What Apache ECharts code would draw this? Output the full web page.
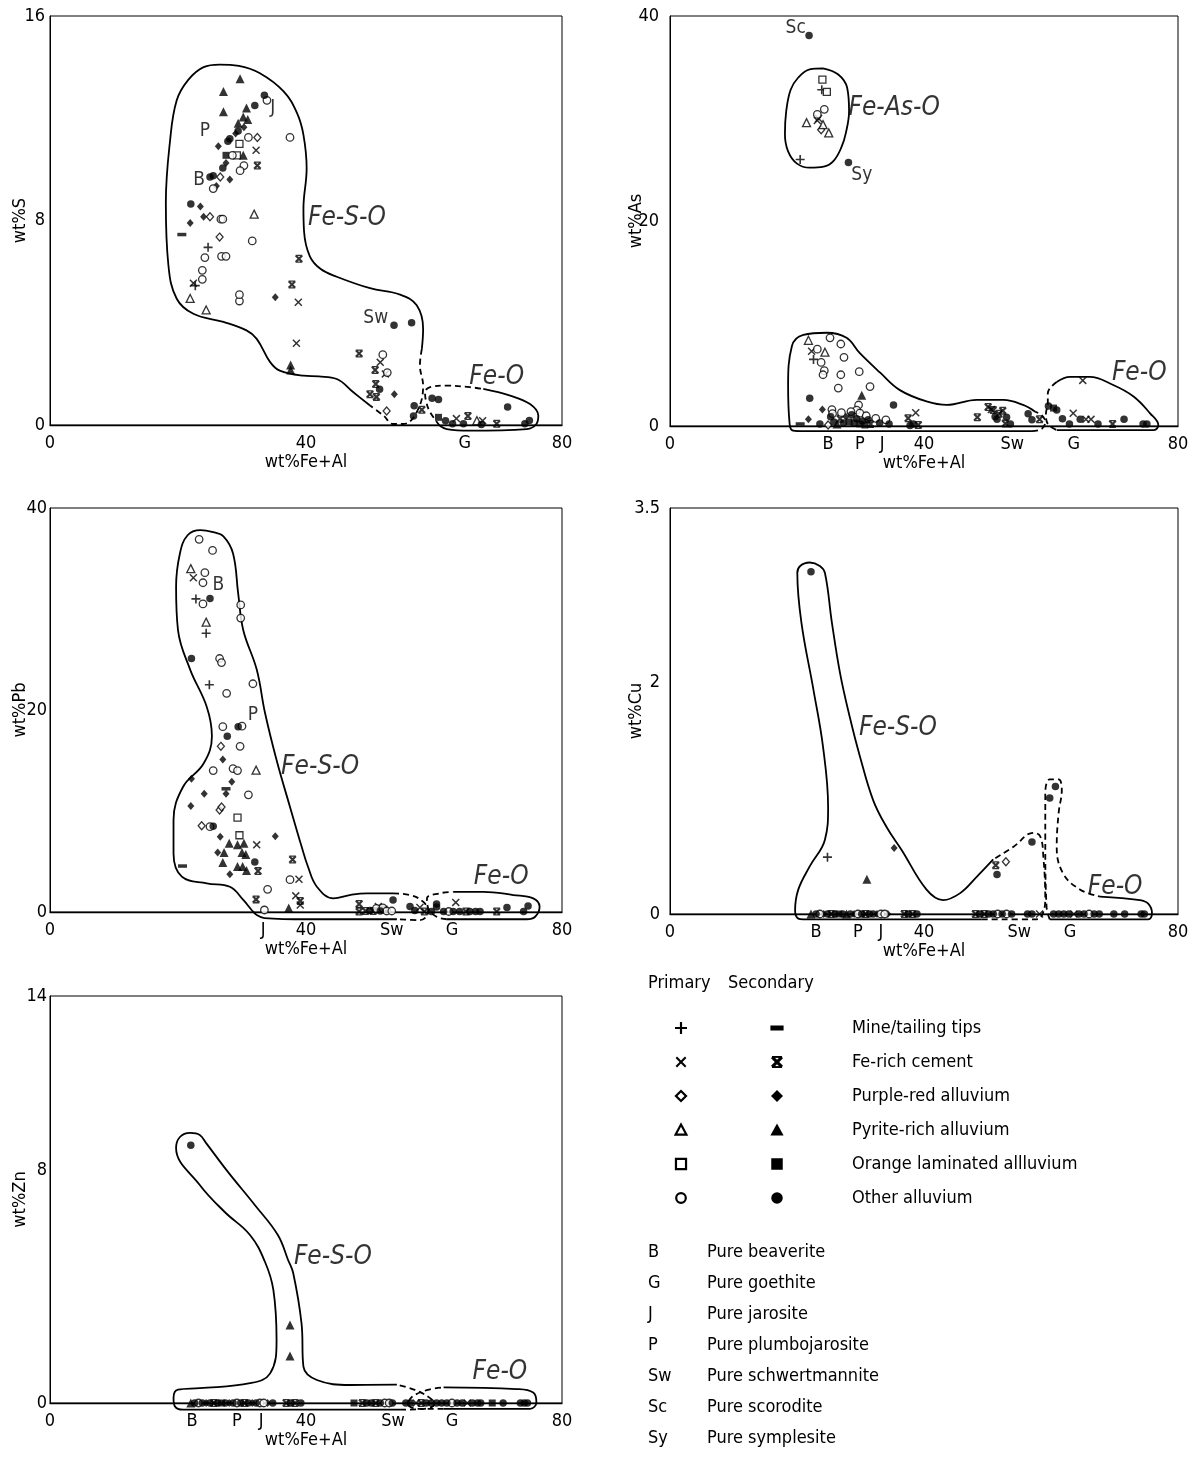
<!DOCTYPE html>
<html><head><meta charset="utf-8">
<script src="https://cdn.jsdelivr.net/npm/echarts@6/dist/echarts.min.js"></script>
<style>html,body{margin:0;padding:0;background:#fff}#c{width:1197px;height:1458px}</style>
</head><body><div id="c"></div><script>
// ---------------- DATA ----------------
// point codes: p=primary(open), s=secondary(filled); + mine tips, - (secondary mine), x cement, d diamond, t triangle, q square, c circle
const X_LABELS_S  = [[0,'0'],[40,'40'],[64.8,'G'],[80,'80']];
const X_LABELS_AS = [[0,'0'],[24.9,'B'],[29.9,'P'],[33.4,'J'],[40,'40'],[53.9,'Sw'],[63.6,'G'],[80,'80']];
const X_LABELS_PB = [[0,'0'],[33.3,'J'],[40,'40'],[53.4,'Sw'],[62.8,'G'],[80,'80']];
const X_LABELS_CU = [[0,'0'],[23,'B'],[29.6,'P'],[33.2,'J'],[40,'40'],[55,'Sw'],[63,'G'],[80,'80']];
const X_LABELS_ZN = [[0,'0'],[22.2,'B'],[29.2,'P'],[33,'J'],[40,'40'],[53.6,'Sw'],[62.8,'G'],[80,'80']];
const Y_TICKS_S = [0,8,16], Y_TICKS_AS = [0,20,40], Y_TICKS_PB = [0,20,40], Y_TICKS_CU = [0,2,3.5], Y_TICKS_ZN = [0,8,14];

const PTS_S = [
 [33.5,12.9,'sc'],[32.0,12.5,'sc'],[29.4,11.5,'sc'],[28.1,11.2,'sc'],[27.8,11.1,'sc'],[27.5,10.55,'sq'],[27.0,10.05,'sc'],[25.0,9.7,'sc'],[25.5,9.75,'sc'],[22.0,8.65,'sc'],
 [33.9,12.7,'pc'],[31.0,11.25,'pc'],[37.5,11.25,'pc'],[28.5,10.55,'pc'],[30.3,10.15,'pc'],[29.7,9.95,'pc'],[25.5,9.25,'pc'],[26.7,8.05,'pc'],[27.0,8.05,'pc'],[31.6,7.2,'pc'],
 [24.2,6.55,'pc'],[26.8,6.6,'pc'],[27.5,6.6,'pc'],[23.8,6.05,'pc'],[23.8,5.7,'pc'],[29.6,4.85,'pc'],[29.6,5.1,'pc'],[52.0,2.75,'pc'],[52.7,2.05,'pc'],
 [29.7,13.55,'st'],[27.1,13.05,'st'],[27.1,12.25,'st'],[30.7,12.4,'st'],[30.2,12.05,'st'],[30.9,11.95,'st'],[29.4,11.8,'st'],[30.2,10.55,'st'],[37.6,2.35,'st'],[37.6,2.15,'st'],
 [30.3,11.65,'sd'],[29.0,11.4,'sd'],[26.3,10.9,'sd'],[27.5,10.25,'sd'],[28.1,9.6,'sd'],[26.0,9.35,'sd'],[23.5,8.55,'sd'],[24.0,8.15,'sd'],[21.9,7.9,'sd'],[35.2,5.0,'sd'],[53.8,1.2,'sd'],
 [32.4,11.25,'pd'],[26.6,9.7,'pd'],[25.0,8.15,'pd'],[26.5,7.35,'pd'],[52.6,0.55,'pd'],
 [29.6,11.0,'pq'],[29.2,10.55,'pq'],
 [31.9,8.25,'pt'],[21.9,4.95,'pt'],[24.4,4.5,'pt'],[66.7,0.17,'pt'],
 [32.2,10.75,'px'],[22.4,5.55,'px'],[38.8,4.8,'px'],[38.5,3.2,'px'],[51.6,2.45,'px'],[52.4,2.0,'px'],[63.5,0.25,'px'],[67.6,0.17,'px'],
 [32.4,10.15,'sx'],[38.9,6.5,'sx'],[37.8,5.5,'sx'],[48.3,2.8,'sx'],[50.8,2.15,'sx'],[50.9,1.6,'sx'],[50.0,1.2,'sx'],[51.0,1.1,'sx'],[58.1,0.6,'sx'],[65.3,0.35,'sx'],[69.8,0.05,'sx'],
 [20.6,7.45,'s-'],
 [24.7,6.95,'p+'],[22.7,5.45,'p+'],
 [53.75,3.9,'sc'],[56.5,4.0,'sc'],[51.5,1.4,'sc'],[59.7,1.05,'sc'],[60.7,1.0,'sc'],[56.9,0.75,'sc'],[56.8,0.35,'sc'],[61.8,0.17,'sc'],[62.9,0.05,'sc'],[64.6,0.05,'sc'],
 [67.4,0.02,'sc'],[71.5,0.7,'sc'],[74.2,0.05,'sc'],[74.9,0.18,'sc'],[60.7,0.3,'sq']
];
const PTS_AS = [
 [21.9,38.1,'sc'],[24.0,33.8,'pq'],[23.9,32.8,'p+'],[24.7,32.6,'pq'],[24.3,30.9,'pc'],[23.2,30.4,'pc'],[23.4,30.0,'px'],[21.5,29.6,'pt'],[23.2,29.8,'px'],[24.1,29.4,'pt'],
 [23.8,28.9,'pd'],[25.0,28.6,'pt'],[20.5,26.0,'p+'],[28.1,25.7,'sc'],
 [21.8,8.36,'pt'],[25.2,8.6,'pc'],[26.9,8.0,'pc'],[22.3,7.3,'px'],[23.2,7.5,'pc'],[24.4,7.2,'pt'],[22.6,6.5,'p+'],[23.8,6.2,'pc'],[24.3,5.4,'pc'],[24.1,5.0,'pc'],
 [27.4,6.7,'pc'],[26.9,5.0,'pc'],[29.8,5.3,'pc'],[26.5,3.7,'pc'],[31.5,3.85,'pc'],[30.2,3.0,'st'],[22.0,2.7,'sc'],[35.2,2.05,'sc'],[24.0,1.6,'sd'],[25.5,1.6,'pc'],
 [29.7,2.05,'pc'],[29.4,1.55,'pc'],[29.9,1.25,'pc'],[30.9,1.0,'pc'],[21.8,0.65,'sd'],[20.5,0.2,'s-'],[23.6,0.2,'sc'],[24.9,0.1,'pd'],
 [25.3,0.9,'sc'],[25.8,0.4,'sc'],[26.3,0.2,'st'],[26.8,0.7,'sx'],[27.3,0.3,'sc'],[27.7,0.9,'sd'],[28.2,0.4,'sq'],[28.6,1.1,'sc'],[29.0,0.3,'sq'],[29.4,0.7,'sc'],
 [29.9,0.2,'sq'],[30.3,0.5,'sc'],[30.7,0.1,'sq'],[31.2,0.6,'sc'],[31.6,0.2,'sx'],[25.6,1.2,'pc'],[27.0,1.3,'pc'],[28.5,1.4,'pc'],
 [32.4,0.75,'pc'],[34.0,0.6,'pc'],[33.0,0.3,'sc'],[34.5,0.2,'sc'],[37.5,0.75,'sx'],[37.8,0.05,'sc'],[38.7,1.3,'px'],[39.1,0.1,'sx'],[38.3,0.2,'sc'],
 [48.4,0.85,'sx'],[50.1,1.85,'sx'],[50.6,1.6,'px'],[50.9,1.55,'sx'],[52.4,1.5,'sx'],[51.2,0.9,'sc'],[51.5,0.65,'sc'],[53.0,0.85,'sc'],[52.8,0.25,'sx'],[53.6,0.2,'sc'],[51.8,1.2,'sx'],
 [56.4,1.2,'sc'],[57.0,0.6,'sc'],[58.2,0.65,'sx'],[59.6,1.95,'sc'],[60.4,1.75,'sq'],[60.9,1.55,'sc'],[65.0,4.45,'px'],[63.5,1.25,'px'],[61.8,0.7,'sc'],[62.9,0.2,'sc'],
 [64.6,0.65,'sc'],[65.5,0.65,'px'],[66.3,0.65,'px'],[67.4,0.2,'sc'],[69.7,0.2,'sx'],[71.5,0.65,'sc'],[74.5,0.2,'sc'],[75.1,0.2,'sc']
];
const PTS_PB = [
 [23.3,36.9,'pc'],[25.4,35.8,'pc'],[22.0,34.0,'pt'],[22.4,33.1,'px'],[24.2,33.6,'pc'],[23.9,32.6,'pc'],[22.8,31.0,'p+'],[25.0,31.05,'sc'],[23.9,30.5,'pc'],[29.8,30.4,'pc'],
 [29.8,29.1,'pc'],[24.4,28.7,'pt'],[24.4,27.6,'p+'],[22.1,25.1,'sc'],[26.5,25.1,'pc'],[26.8,24.7,'pc'],[24.9,22.5,'p+'],[31.7,22.6,'pc'],[27.6,21.65,'pc'],[27.0,18.35,'pc'],
 [29.4,18.35,'sc'],[30.0,18.4,'pc'],[27.7,17.4,'sc'],[26.7,16.4,'pd'],[29.7,16.4,'pc'],[27.0,15.1,'sd'],[25.5,14.0,'pc'],[28.6,14.2,'pc'],[29.3,14.0,'pc'],[32.2,14.05,'pt'],
 [22.1,13.2,'sd'],[28.4,12.9,'sd'],[27.5,12.2,'s-'],[27.5,11.7,'sd'],[24.1,11.7,'sd'],[31.0,11.6,'pc'],[22.0,10.5,'sd'],[26.5,10.1,'pd'],[26.8,10.4,'pd'],[29.3,9.35,'pq'],
 [23.7,8.55,'pd'],[25.0,8.45,'pc'],[25.5,8.5,'sc'],[29.6,7.6,'pq'],[26.6,7.45,'sd'],[35.2,7.5,'sd'],[28.0,6.8,'st'],[29.3,6.65,'st'],[30.3,6.8,'st'],[30.0,5.9,'st'],
 [30.6,5.7,'st'],[26.2,5.9,'sd'],[32.3,6.65,'px'],[27.2,5.9,'st'],[20.7,4.55,'s-'],[27.0,4.9,'st'],[29.3,4.5,'st'],[30.1,4.5,'st'],[30.7,4.1,'st'],[32.0,4.95,'sc'],
 [32.5,4.05,'sx'],[28.1,3.75,'sd'],[37.9,5.2,'sx'],[37.5,3.2,'pc'],[38.9,3.25,'px'],[34.0,2.25,'pc'],[32.2,1.25,'sx'],[38.4,1.6,'px'],[39.1,1.1,'sx'],[37.3,0.4,'st'],
 [33.5,0.2,'pc'],[39.1,0.7,'px'],
 [48.3,0.8,'sx'],[48.3,0.05,'sx'],[49.3,0.1,'sx'],[50.0,0.15,'sc'],[50.5,0.1,'sx'],[51.0,0.35,'pc'],[51.3,0.55,'px'],[51.6,0.1,'sc'],[52.0,0.4,'pc'],[52.6,0.1,'pc'],
 [53.4,0.1,'pc'],[52.2,0.25,'sx'],[53.6,1.2,'sc'],[56.25,0.55,'sc'],[57.0,0.15,'sc'],[57.8,0.45,'px'],[58.5,0.05,'sx'],[59.6,0.05,'sc'],[60.4,0.8,'sc'],[60.4,0.5,'sc'],
 [63.4,0.95,'px'],[61.5,0.05,'sc'],[62.3,0.05,'pc'],[63.0,0.05,'sc'],[64.0,0.05,'sc'],[65.0,0.05,'sx'],[65.6,0.05,'sc'],[66.5,0.05,'sc'],[67.2,0.05,'sc'],[69.8,0.05,'sx'],
 [71.4,0.45,'sc'],[74.0,0.05,'sc'],[74.7,0.6,'sc']
];
const PTS_CU = [
 [22.2,2.95,'sc'],[24.8,0.49,'p+'],[31.0,0.30,'st'],[35.3,0.57,'sd'],[51.3,0.42,'sx'],[51.5,0.34,'sc'],[52.9,0.45,'pd'],[57.0,0.62,'sc'],[59.8,1.0,'sc'],[60.7,1.1,'sc'],
 [22.2,0,'st'],[23.0,0,'sc'],[23.6,0,'pc'],[24.2,0,'sd'],[24.8,0,'sc'],[25.4,0,'sx'],[26.0,0,'sc'],[26.6,0,'sq'],[27.2,0,'sc'],[27.8,0,'st'],[28.4,0,'sc'],[29.0,0,'sd'],
 [29.6,0,'pc'],[30.2,0,'sc'],[30.8,0,'sx'],[31.4,0,'sc'],[32.0,0,'sc'],[32.6,0,'sd'],[33.2,0,'pc'],[33.8,0,'pc'],[34.3,0,'sd'],[36.9,0,'sx'],[37.5,0,'sc'],[38.2,0,'sx'],
 [38.9,0,'sc'],[48.1,0,'sx'],[48.8,0,'sc'],[49.5,0,'sx'],[50.2,0,'sc'],[50.9,0,'sc'],[51.6,0,'pc'],[52.3,0,'sc'],[53.0,0,'pc'],[53.8,0,'sc'],[56.3,0,'sc'],[57.0,0,'sc'],
 [58.2,0,'px'],[60.4,0,'sc'],[61.2,0,'sc'],[62.0,0,'sc'],[62.8,0,'sc'],[63.6,0,'px'],[64.4,0,'sc'],[65.2,0,'sc'],[66.0,0,'pc'],[66.8,0,'sc'],[67.6,0,'sc'],[69.9,0,'sc'],
 [71.6,0,'sc'],[74.2,0,'sc'],[74.7,0,'sc']
];
const PTS_ZN = [
 [22.0,8.87,'sc'],[37.5,2.68,'st'],[37.5,1.62,'st'],
 [22.0,0,'st'],[22.6,0,'sc'],[23.2,0,'pc'],[23.8,0,'sc'],[24.4,0,'sd'],[25.0,0,'sc'],[25.6,0,'sx'],[26.2,0,'sc'],[26.8,0,'sq'],[27.4,0,'sc'],[28.0,0,'sd'],[28.6,0,'sc'],
 [29.2,0,'pc'],[29.8,0,'sc'],[30.4,0,'sx'],[31.0,0,'sc'],[31.6,0,'sd'],[32.2,0,'sc'],[32.8,0,'pc'],[33.4,0,'pc'],[34.0,0,'sd'],[34.8,0,'sc'],[36.9,0,'sx'],[37.6,0,'sc'],
 [38.3,0,'sx'],[39.2,0,'sc'],[47.5,0,'sq'],[48.8,0,'sx'],[49.5,0,'sc'],[50.2,0,'sc'],[50.9,0,'sx'],[51.6,0,'sc'],[52.3,0,'pc'],[53.0,0,'pc'],[53.5,0,'sc'],[55.6,0,'sc'],
 [56.3,0,'sc'],[57.2,0,'px'],[58.0,0,'sx'],[58.8,0,'sc'],[59.6,0,'sc'],[60.4,0,'sc'],[61.2,0,'sc'],[62.0,0,'sc'],[62.8,0,'pc'],[63.6,0,'sc'],[64.4,0,'sc'],[65.2,0,'px'],
 [66.0,0,'sc'],[66.8,0,'sc'],[67.3,0,'sc'],[69.1,0,'sq'],[70.8,0,'sc'],[73.5,0,'sc'],[74.1,0,'sc'],[74.6,0,'sc']
];

// field outlines (data units), split into solid and dashed pieces
const OUT_S_SOLID = [
 [[50.0,0.76],[47.4,1.28],[44.8,1.8],[42,1.9],[39.6,1.93],[35.9,2.13],[34.4,2.46],[32.3,3.37],[30.7,3.7],[27.1,4.03],[22.4,4.35],[19.8,4.94],[18.5,6.25],[18.1,8.7],[18.75,11.1],[19.8,12.7],[21.6,13.5],[24,14.0],[26.5,14.1],[29.5,14.05],[32.8,13.76],[36.5,13.05],[38.6,12.2],[39.6,11.35],[40.1,10.04],[39.6,8.47],[39.7,7.56],[40.6,6.6],[42.3,6.1],[44.8,5.8],[50,5.35],[54.7,5.1],[57.3,4.68],[58.3,3.76],[58.1,2.98]],
 [[67.7,1.41],[71.9,1.15],[75,0.82],[76.3,0.37],[76,0.04],[74.5,-0.16],[65.6,-0.22],[62,-0.16],[60.9,-0.03]]
];
const OUT_S_DASH = [
 [[58.1,2.98],[57.8,2.33],[58.3,1.54],[57.3,0.5],[55.2,0.04],[53.6,0.04],[52.1,0.37],[50.0,0.76]],
 [[60.9,-0.03],[59.4,0.5],[58.8,0.89],[58.6,1.28],[59.4,1.48],[62,1.54],[65.6,1.48],[67.7,1.41]]
];
const OUT_AS_SOLID = [
 [[24.1,34.9],[26.5,34.3],[27.9,33.0],[28.2,30.7],[27.7,28.6],[27.0,27.2],[25.8,25.9],[24.2,25.3],[22.0,25.2],[20.0,25.6],[18.6,26.8],[18.1,28.5],[18.3,30.7],[19.0,32.8],[20.2,34.0],[22.0,34.8],[24.1,34.9]],
 [[57.5,1.4],[55.6,2.06],[52.5,2.55],[48.3,2.55],[43.6,2.06],[40.4,2.4],[36.2,3.5],[33.1,5.2],[29.9,7.1],[27.8,8.6],[24.7,9.1],[21.0,8.9],[19.2,7.8],[18.6,3.85],[18.8,0.5],[19.2,-0.4],[20.5,-0.5],[57.0,-0.5]],
 [[60.9,-0.4],[76.2,-0.4],[76.9,0.1],[75.6,1.24],[73.0,2.88],[69.8,4.0],[66.1,4.8],[63,4.8],[60.9,4.3]]
];
const OUT_AS_DASH = [
 [[57.0,-0.5],[58.5,-0.3],[59.1,0.4],[58.6,1.0],[57.5,1.4]],
 [[60.9,4.3],[59.5,3.2],[59.5,2.2],[59.2,1.2],[59.5,0.2],[60.9,-0.4]]
];
const OUT_PB_SOLID = [
 [[54.2,-0.72],[40,-0.72],[33.5,-0.6],[32.3,-0.3],[31.5,0.2],[30.2,1.19],[28.1,2.5],[24.5,2.84],[20.6,3.5],[19.3,5.8],[19.3,9.1],[20.8,12.4],[24.0,14.7],[25.3,17.4],[24.5,20.3],[21.9,24.0],[20.0,27.9],[19.7,32.2],[20.3,35.5],[21.5,37.3],[23.5,37.8],[25.5,37.6],[27.1,37.2],[28.6,35.5],[29.4,31.55],[30.2,27.9],[32.3,24.0],[33.6,19.7],[35.4,15.05],[37.5,10.4],[39.3,6.5],[40.3,4.5],[41.7,2.5],[44.3,1.35],[47,1.7],[49.5,1.85],[53.6,1.85]],
 [[63,2.0],[67.7,2.0],[72.4,1.68],[75.5,1.35],[76.5,0.52],[75.8,-0.47],[74.5,-0.72],[62,-0.72]]
];
const OUT_PB_DASH = [
 [[53.6,1.85],[56.25,1.68],[58.3,1.02],[59.1,0.03],[57.8,-0.8],[54.2,-0.72]],
 [[62,-0.72],[60.4,-0.47],[59.1,0.37],[58.9,1.35],[60.9,1.85],[63,2.0]]
];
const OUT_CU_SOLID = [
 [[50.9,0.47],[48.3,0.32],[45.7,0.18],[43.0,0.12],[40.4,0.21],[36.5,0.55],[34.1,0.75],[32.0,0.98],[29.9,1.36],[28.3,1.70],[26.8,2.07],[25.5,2.51],[24.4,2.94],[23.6,3.0],[22.0,3.03],[20.5,3.0],[20.05,2.94],[20.7,2.51],[22.6,1.93],[24.1,1.44],[24.9,0.92],[24.4,0.64],[22.0,0.41],[20.2,0.21],[19.7,0.03],[20.2,-0.04],[21.0,-0.046],[49.1,-0.046]],
 [[67.7,0.15],[74.0,0.12],[75.3,0.09],[75.9,0.01],[75.3,-0.046],[60.9,-0.046],[59.8,-0.046]]
];
const OUT_CU_DASH = [
 [[49.1,-0.046],[57.7,-0.046],[58.5,-0.02],[59.1,0.12],[58.8,0.49],[58.3,0.67],[57.2,0.70],[54.1,0.58],[50.9,0.47]],
 [[59.8,-0.046],[59.3,0.06],[59.1,0.64],[59.1,1.04],[59.8,1.16],[61.2,1.16],[61.7,1.07],[61.2,0.87],[60.9,0.58],[61.9,0.35],[64.6,0.21],[67.7,0.15]]
];
const OUT_ZN_SOLID = [
 [[54.2,0.63],[46.9,0.62],[41.7,0.79],[39.6,1.25],[39.3,2.74],[38.0,4.47],[37.2,4.92],[35.6,5.78],[32.0,6.81],[27.8,7.95],[24.4,8.94],[23.4,9.22],[21.9,9.29],[20.3,9.15],[19.7,8.77],[23.4,7.5],[27.3,6.57],[31.25,5.78],[33.6,4.85],[34.9,3.89],[35.4,2.17],[34.4,1.02],[31.25,0.68],[23.4,0.51],[20.0,0.46],[19.3,0.17],[19.5,-0.11],[20.8,-0.23],[54.7,-0.23]],
 [[61.5,0.54],[72.9,0.48],[75.5,0.36],[76,0.02],[75,-0.2],[61.5,-0.2]]
];
const OUT_ZN_DASH = [
 [[54.7,-0.23],[58.5,-0.2],[60.0,-0.05],[59.5,0.15],[57,0.45],[54.2,0.63]],
 [[61.5,-0.2],[57.5,-0.2],[56,-0.05],[56.5,0.2],[59,0.45],[61.5,0.54]]
];

// in-plot labels
const LABELS_S  = [[24.2,11.5,'P'],[23.3,9.6,'B'],[34.8,12.4,'J'],[50.9,4.2,'Sw']];
const LABELS_AS = [[19.8,38.8,'Sc'],[30.2,24.5,'Sy']];
const LABELS_PB = [[26.3,32.4,'B'],[31.7,19.5,'P']];
const LABELS_CU = [];
const LABELS_ZN = [];
const FIELDS_S  = [[46.4,8.1,'Fe-S-O'],[69.8,1.85,'Fe-O']];
const FIELDS_AS = [[35.3,31.0,'Fe-As-O'],[73.9,5.1,'Fe-O']];
const FIELDS_PB = [[42.2,14.3,'Fe-S-O'],[70.5,3.4,'Fe-O']];
const FIELDS_CU = [[35.9,1.6,'Fe-S-O'],[70.1,0.23,'Fe-O']];
const FIELDS_ZN = [[44.2,5.0,'Fe-S-O'],[70.3,1.07,'Fe-O']];

const LEGEND_ROWS = [['p+','s-','Mine/tailing tips'],['px','sx','Fe-rich cement'],['pd','sd','Purple-red alluvium'],['pt','st','Pyrite-rich alluvium'],['pq','sq','Orange laminated allluvium'],['pc','sc','Other alluvium']];
const MINERALS = [['B','Pure beaverite'],['G','Pure goethite'],['J','Pure jarosite'],['P','Pure plumbojarosite'],['Sw','Pure schwertmannite'],['Sc','Pure scorodite'],['Sy','Pure symplesite']];

// ---------------- RENDERING ----------------
const FONT = '"Liberation Sans Narrow","Arial Narrow","DejaVu Sans Condensed",sans-serif';
const GEO = {
  plus: [[[4.1,0],[5.9,0],[5.9,4.1],[10,4.1],[10,5.9],[5.9,5.9],[5.9,10],[4.1,10],[4.1,5.9],[0,5.9],[0,4.1],[4.1,4.1]]],
  cross: [[[0,1.3],[1.3,0],[10,8.7],[8.7,10]],[[8.7,0],[10,1.3],[1.3,10],[0,8.7]]],
  ast: [[[0,1.9],[1.9,0],[10,8.1],[8.1,10]],[[8.1,0],[10,1.9],[1.9,10],[0,8.1]],[[0.8,0],[9.2,0],[9.2,1.6],[0.8,1.6]],[[0.8,8.4],[9.2,8.4],[9.2,10],[0.8,10]]]
};
const toPath = polys => 'path://' + polys.map(p => 'M' + p.map(q => q.join(',')).join('L') + 'Z').join('');
const SYM = {
  'p+': {symbol: toPath(GEO.plus), size: 9},
  's-': {symbol: 'rect', size: [9,3.5]},
  'px': {symbol: toPath(GEO.cross), size: 8},
  'sx': {symbol: toPath(GEO.ast), size: 8},
  'pd': {symbol: 'diamond', size: [7,8], open: true},
  'sd': {symbol: 'diamond', size: [7,8]},
  'pt': {symbol: 'triangle', size: 8, open: true},
  'st': {symbol: 'triangle', size: 9},
  'pq': {symbol: 'rect', size: 7, open: true},
  'sq': {symbol: 'rect', size: 7},
  'pc': {symbol: 'circle', size: 7.5, open: true},
  'sc': {symbol: 'circle', size: 7.5}
};
const CODES = Object.keys(SYM);

const panels = [
  {grid:{left:50, top:16, width:512, height:409}, yMax:16, yTicks:Y_TICKS_S, xl:X_LABELS_S, yName:'wt%S', pts:PTS_S, solid:OUT_S_SOLID, dash:OUT_S_DASH, labels:LABELS_S, fields:FIELDS_S, yGap:21, ym:5},
  {grid:{left:670, top:16, width:508, height:410}, yMax:40, yTicks:Y_TICKS_AS, xl:X_LABELS_AS, yName:'wt%As', pts:PTS_AS, solid:OUT_AS_SOLID, dash:OUT_AS_DASH, labels:LABELS_AS, fields:FIELDS_AS, yGap:25, ym:11},
  {grid:{left:50, top:508, width:512, height:404}, yMax:40, yTicks:Y_TICKS_PB, xl:X_LABELS_PB, yName:'wt%Pb', pts:PTS_PB, solid:OUT_PB_SOLID, dash:OUT_PB_DASH, labels:LABELS_PB, fields:FIELDS_PB, yGap:21, ym:3},
  {grid:{left:670, top:508, width:508, height:406}, yMax:3.5, yTicks:Y_TICKS_CU, xl:X_LABELS_CU, yName:'wt%Cu', pts:PTS_CU, solid:OUT_CU_SOLID, dash:OUT_CU_DASH, labels:LABELS_CU, fields:FIELDS_CU, yGap:25, ym:10},
  {grid:{left:50, top:996, width:512, height:407}, yMax:14, yTicks:Y_TICKS_ZN, xl:X_LABELS_ZN, yName:'wt%Zn', pts:PTS_ZN, solid:OUT_ZN_SOLID, dash:OUT_ZN_DASH, labels:LABELS_ZN, fields:FIELDS_ZN, yGap:21, ym:3}
];

const txt = (size, extra) => Object.assign({color:'#000', fontSize:size, fontFamily:FONT}, extra || {});
const grids = [], xAxes = [], yAxes = [], series = [];
panels.forEach((p, i) => {
  grids.push(Object.assign({show:true, borderColor:'#000', borderWidth:1, backgroundColor:'transparent'}, p.grid));
  xAxes.push({gridIndex:i, type:'value', min:0, max:80,
    axisLine:{show:true, onZero:false, lineStyle:{color:'#000', width:1.3}}, axisTick:{show:false}, splitLine:{show:false},
    axisLabel:Object.assign({customValues:p.xl.map(d=>d[0]), margin:9, formatter:v => { const f = p.xl.find(d => Math.abs(d[0]-v) < 1e-6); return f ? f[1] : ''; }}, txt(18)),
    name:'wt%Fe+Al', nameLocation:'middle', nameGap:28, nameMoveOverlap:false, nameTextStyle:txt(18)});
  yAxes.push({gridIndex:i, type:'value', min:0, max:p.yMax,
    axisLine:{show:true, lineStyle:{color:'#000', width:1}}, axisTick:{show:false}, splitLine:{show:false},
    axisLabel:Object.assign({customValues:p.yTicks, margin:p.ym, formatter:v => String(v)}, txt(18)),
    name:p.yName, nameLocation:'middle', nameGap:p.yGap, nameMoveOverlap:false, nameTextStyle:txt(18)});
  p.solid.forEach(seg => series.push({type:'line', xAxisIndex:i, yAxisIndex:i, data:seg, smooth:0.4, symbol:'none', clip:false, silent:true, z:2,
    lineStyle:{color:'#000', width:1.8, type:'solid'}}));
  p.dash.forEach(seg => series.push({type:'line', xAxisIndex:i, yAxisIndex:i, data:seg, smooth:0.4, symbol:'none', clip:false, silent:true, z:2,
    lineStyle:{color:'#000', width:1.8, type:[6,4]}}));
  CODES.forEach(code => {
    const d = p.pts.filter(q => q[2] === code).map(q => [q[0], q[1]]);
    if (!d.length) return;
    const s = SYM[code];
    series.push({type:'scatter', xAxisIndex:i, yAxisIndex:i, data:d, symbol:s.symbol, symbolSize:s.size, clip:false, silent:true, z:4,
      itemStyle: s.open ? {color:'#fff', borderColor:'#000', borderWidth:1.3} : {color:'#000', borderWidth:0}});
  });
  if (p.labels.length) series.push({type:'scatter', xAxisIndex:i, yAxisIndex:i, data:p.labels.map(l => ({value:[l[0],l[1]], name:l[2]})),
    symbolSize:1, itemStyle:{color:'rgba(0,0,0,0)'}, clip:false, silent:true, z:5,
    label:Object.assign({show:true, position:'inside', formatter:q => q.name}, txt(19))});
  series.push({type:'scatter', xAxisIndex:i, yAxisIndex:i, data:p.fields.map(l => ({value:[l[0],l[1]], name:l[2]})),
    symbolSize:1, itemStyle:{color:'rgba(0,0,0,0)'}, clip:false, silent:true, z:5,
    label:Object.assign({show:true, position:'inside', formatter:q => q.name, fontStyle:'italic'}, txt(26))});
});

// legend graphics
function polysG(polys, cx, cy, s) {
  return {type:'group', children: polys.map(pl => ({type:'polygon', shape:{points: pl.map(([a,b]) => [cx+(a-5)*s/10, cy+(b-5)*s/10])}, style:{fill:'#000'}}))};
}
function symG(code, cx, cy, s) {
  const open = code[0] === 'p';
  const st = open ? {fill:'#fff', stroke:'#000', lineWidth:2.2} : {fill:'#000'};
  const t = code[1];
  if (code === 'p+') return polysG(GEO.plus, cx, cy, s);
  if (code === 's-') return {type:'rect', shape:{x:cx-s*0.55, y:cy-2.5, width:s*1.1, height:5}, style:{fill:'#000'}};
  if (code === 'px') return polysG(GEO.cross, cx, cy, s*0.9);
  if (code === 'sx') return polysG(GEO.ast, cx, cy, s);
  if (t === 'd') { const r = open ? s*0.42 : s*0.5; return {type:'polygon', shape:{points:[[cx,cy-r],[cx+r,cy],[cx,cy+r],[cx-r,cy]]}, style:st}; }
  if (t === 't') { const r = open ? s*0.45 : s*0.55; return {type:'polygon', shape:{points:[[cx,cy-r],[cx+r,cy+r*0.85],[cx-r,cy+r*0.85]]}, style:st}; }
  if (t === 'q') { const r = open ? s*0.42 : s*0.48; return {type:'rect', shape:{x:cx-r, y:cy-r, width:2*r, height:2*r}, style:st}; }
  const r = open ? s*0.4 : s*0.48; return {type:'circle', shape:{cx:cx, cy:cy, r:r}, style:st};
}
function textG(str, x, y) {
  return {type:'text', x:x, y:y, style:{text:str, fill:'#000', font:'18px ' + FONT, verticalAlign:'middle', textVerticalAlign:'middle', align:'left'}};
}
const graphics = [textG('Primary', 648, 983), textG('Secondary', 728, 983)];
LEGEND_ROWS.forEach((r, k) => {
  const y = 1028 + k*34;
  graphics.push(symG(r[0], 681, y, 12), symG(r[1], 777, y, 12), textG(r[2], 852, y));
});
MINERALS.forEach((m, k) => {
  const y = 1252 + k*31;
  graphics.push(textG(m[0], 648, y), textG(m[1], 707, y));
});

const chart = echarts.init(document.getElementById('c'), null, {renderer:'canvas'});
chart.setOption({animation:false, backgroundColor:'#fff', grid:grids, xAxis:xAxes, yAxis:yAxes, series:series, graphic:{elements:graphics}});
</script></body></html>
